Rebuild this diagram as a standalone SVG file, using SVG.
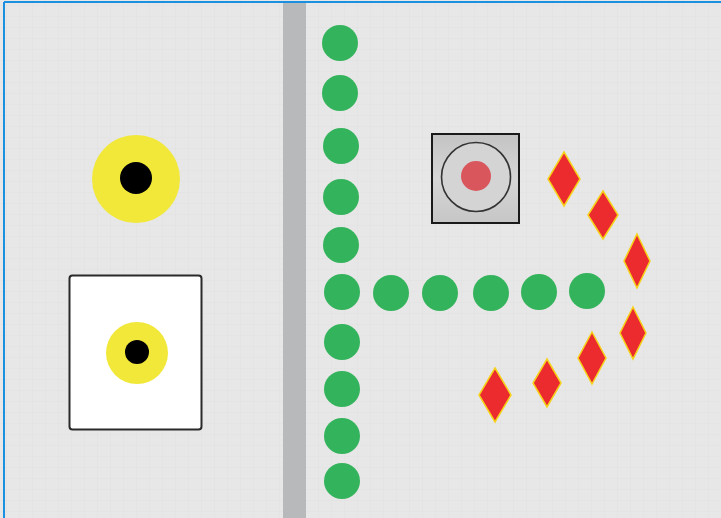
<svg xmlns="http://www.w3.org/2000/svg" width="721" height="518" viewBox="0 0 721 518">
<style>
.g{fill:#33b35b}
.y{fill:#f1e83a}
.k{fill:#000}
.d{fill:#ec2b2e;stroke:#f6d21a;stroke-width:1.5;stroke-linejoin:miter}
</style>
<defs>
<pattern id="tex" width="13" height="11" patternUnits="userSpaceOnUse">
<rect width="13" height="11" fill="#e7e7e7"/>
<path d="M0 5.5H13" stroke="#e0e0e0" stroke-width="0.5"/>
<path d="M6.5 0V11" stroke="#e1e1e1" stroke-width="0.5"/>
</pattern>
<linearGradient id="brush" x1="0" y1="0" x2="0" y2="1">
<stop offset="0" stop-color="#c3c3c3"/>
<stop offset="0.5" stop-color="#d6d6d6"/>
<stop offset="1" stop-color="#c6c6c6"/>
</linearGradient>
</defs>
<rect width="721" height="518" fill="url(#tex)"/>
<line x1="4" y1="2" x2="721" y2="2" stroke="#1b8fe0" stroke-width="2"/>
<line x1="4" y1="2" x2="4" y2="518" stroke="#1b8fe0" stroke-width="2"/>
<rect x="283" y="3" width="23" height="515" fill="#b7b9ba"/>

<g id="yellow-target">
<circle class="y" cx="136" cy="179" r="44"/>
<circle class="k" cx="136" cy="178" r="16"/>
</g>

<g id="white-box">
<rect x="69.5" y="275.5" width="132" height="154" rx="3" fill="#fff" stroke="#2a2a2a" stroke-width="2"/>
<circle class="y" cx="137" cy="353" r="31"/>
<circle class="k" cx="137" cy="352" r="12"/>
</g>

<g id="gray-box">
<rect x="432" y="134" width="87" height="89" fill="url(#brush)" stroke="#1a1a1a" stroke-width="2"/>
<circle cx="476" cy="177" r="34.5" fill="#d4d4d4" stroke="#333" stroke-width="1.6"/>
<circle cx="476" cy="176" r="15" fill="#d8565c"/>
</g>

<g id="column">
<circle class="g" cx="340" cy="43" r="18"/>
<circle class="g" cx="340" cy="93" r="18"/>
<circle class="g" cx="341" cy="146" r="18"/>
<circle class="g" cx="341" cy="197" r="18"/>
<circle class="g" cx="341" cy="245" r="18"/>
<circle class="g" cx="342" cy="292" r="18"/>
<circle class="g" cx="342" cy="342" r="18"/>
<circle class="g" cx="342" cy="389" r="18"/>
<circle class="g" cx="342" cy="436" r="18"/>
<circle class="g" cx="342" cy="481" r="18"/>
</g>

<g id="row">
<circle class="g" cx="391" cy="293" r="18"/>
<circle class="g" cx="440" cy="293" r="18"/>
<circle class="g" cx="491" cy="293" r="18"/>
<circle class="g" cx="539" cy="292" r="18"/>
<circle class="g" cx="587" cy="291" r="18"/>
</g>

<g id="diamonds">
<polygon class="d" points="564,152 580,179 564,206 548,179"/>
<polygon class="d" points="603,191 618,215 603,239 588,215"/>
<polygon class="d" points="637,234 650,261 637,288 624,261"/>
<polygon class="d" points="633,307 646,333 633,359 620,333"/>
<polygon class="d" points="592,332 606,358 592,384 578,358"/>
<polygon class="d" points="547,359 561,383 547,407 533,383"/>
<polygon class="d" points="495,368 511,395 495,422 479,395"/>
</g>
</svg>
